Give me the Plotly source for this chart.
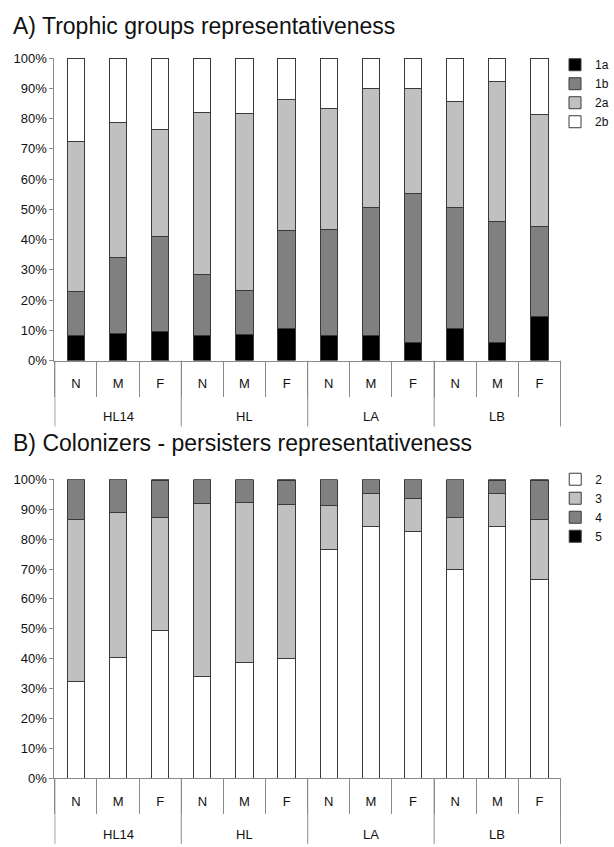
import plotly.graph_objects as go

# Sites and sampling positions
sites = ["HL14", "HL14", "HL14", "HL", "HL", "HL", "LA", "LA", "LA", "LB", "LB", "LB"]
positions = ["N", "M", "F"] * 4
site_names = ["HL14", "HL", "LA", "LB"]

# A) Trophic groups (% of individuals)
trophic_1a = [8.3, 8.9, 9.5, 8.4, 8.7, 10.6, 8.2, 8.2, 6.0, 10.6, 6.0, 14.7]
trophic_1b = [14.4, 25.2, 31.6, 20.0, 14.4, 32.4, 35.1, 42.3, 49.1, 40.0, 40.1, 29.7]
trophic_2a = [49.6, 44.6, 35.4, 53.5, 58.5, 43.3, 40.0, 39.3, 34.9, 35.0, 46.2, 37.0]
trophic_2b = [27.7, 21.3, 23.5, 18.1, 18.4, 13.7, 16.7, 10.2, 10.0, 14.4, 7.7, 18.6]

# B) Colonizer-persister classes (% of individuals)
cp_2 = [32.5, 40.4, 49.3, 34.0, 38.8, 39.9, 76.4, 84.4, 82.6, 70.0, 84.4, 66.6]
cp_3 = [54.1, 48.6, 38.1, 58.1, 53.5, 51.7, 14.9, 11.0, 10.9, 17.4, 10.8, 20.1]
cp_4 = [13.4, 11.0, 12.2, 7.9, 7.7, 8.0, 8.7, 4.6, 6.5, 12.6, 4.3, 12.8]
cp_5 = [0.0, 0.0, 0.4, 0.0, 0.0, 0.4, 0.0, 0.0, 0.0, 0.0, 0.5, 0.5]

W, H = 614, 847
FONT = "Liberation Sans, Arial, sans-serif"
EDGE = "#3a3a3a"
AXIS = "#8a8a8a"
TXT = "#111111"

trophic_series = [("1a", trophic_1a, "#000000"), ("1b", trophic_1b, "#808080"),
                  ("2a", trophic_2a, "#c0c0c0"), ("2b", trophic_2b, "#ffffff")]
cp_series = [("2", cp_2, "#ffffff"), ("3", cp_3, "#c0c0c0"),
             ("4", cp_4, "#808080"), ("5", cp_5, "#000000")]

# one unique category per bar, labelled with its position
keys = [f"{s}|{p}" for s, p in zip(sites, positions)]

fig = go.Figure()
for name, vals, col in trophic_series:
    fig.add_trace(go.Bar(x=keys, y=vals, name=name,
                         marker=dict(color=col, line=dict(color=EDGE, width=1)),
                         xaxis="x", yaxis="y", legend="legend"))
for name, vals, col in cp_series:
    fig.add_trace(go.Bar(x=keys, y=vals, name=name,
                         marker=dict(color=col, line=dict(color=EDGE, width=1)),
                         xaxis="x2", yaxis="y2", legend="legend2"))


def py(px):
    return 1 - px / H


def px_x(px):
    return px / W


xdom = [px_x(56), px_x(578)]
xaxis_style = dict(
    type="category", domain=xdom, showline=True, linecolor=AXIS, linewidth=1,
    tickmode="array", tickvals=keys, ticktext=positions,
    ticks="outside", tickson="boundaries", ticklen=35, tickcolor=AXIS, tickwidth=1,
    ticklabelstandoff=11,
    tickfont=dict(family=FONT, size=13, color=TXT), showgrid=False,
)
yaxis_style = dict(
    range=[0, 100], dtick=10, ticksuffix="%", showline=True, linecolor=AXIS, linewidth=1,
    ticks="outside", ticklen=4, tickcolor=AXIS, showgrid=False, zeroline=False,
    tickfont=dict(family=FONT, size=13, color=TXT),
)

legend_style = dict(font=dict(family=FONT, size=12, color=TXT), bgcolor="rgba(0,0,0,0)",
                    xanchor="left", yanchor="top", traceorder="normal", itemwidth=30,
                    tracegroupgap=0, itemclick=False, itemdoubleclick=False)

# site group boundaries and centres, from category indices
n_per_site = [sites.count(s) for s in site_names]
bounds = [-0.5]
for n in n_per_site:
    bounds.append(bounds[-1] + n)
centres = [(a + b) / 2 for a, b in zip(bounds[:-1], bounds[1:])]

shapes, annotations = [], []
for xa, ya, plot_h in (("x", "y", 308), ("x2", "y2", 304)):
    for b in bounds:
        shapes.append(dict(type="line", xref=xa, yref=f"{ya} domain", x0=b, x1=b,
                           y0=0, y1=-67 / plot_h, line=dict(color=AXIS, width=1)))
    for c, s in zip(centres, site_names):
        annotations.append(dict(text=s, xref=xa, yref=f"{ya} domain", x=c, y=-57 / plot_h,
                                xanchor="center", yanchor="middle", showarrow=False,
                                font=dict(family=FONT, size=13, color=TXT)))

annotations += [
    dict(text="A) Trophic groups representativeness", x=px_x(11), y=py(19.5), xref="paper",
         yref="paper", xanchor="left", yanchor="middle", showarrow=False,
         font=dict(family=FONT, size=23, color=TXT)),
    dict(text="B) Colonizers - persisters representativeness", x=px_x(11), y=py(444),
         xref="paper", yref="paper", xanchor="left", yanchor="middle", showarrow=False,
         font=dict(family=FONT, size=23, color=TXT)),
]

fig.update_layout(
    width=W, height=H, margin=dict(l=0, r=0, t=0, b=0),
    paper_bgcolor="white", plot_bgcolor="white",
    barmode="stack", bargap=0.59, showlegend=True,
    xaxis=dict(xaxis_style, anchor="y"),
    yaxis=dict(yaxis_style, domain=[py(360), py(52)], anchor="x"),
    xaxis2=dict(xaxis_style, anchor="y2"),
    yaxis2=dict(yaxis_style, domain=[py(785), py(481)], anchor="x2"),
    legend=dict(legend_style, x=px_x(572), y=py(44)),
    legend2=dict(legend_style, x=px_x(572), y=py(466)),
    shapes=shapes,
    annotations=annotations,
)

fig.write_html("out.html")
